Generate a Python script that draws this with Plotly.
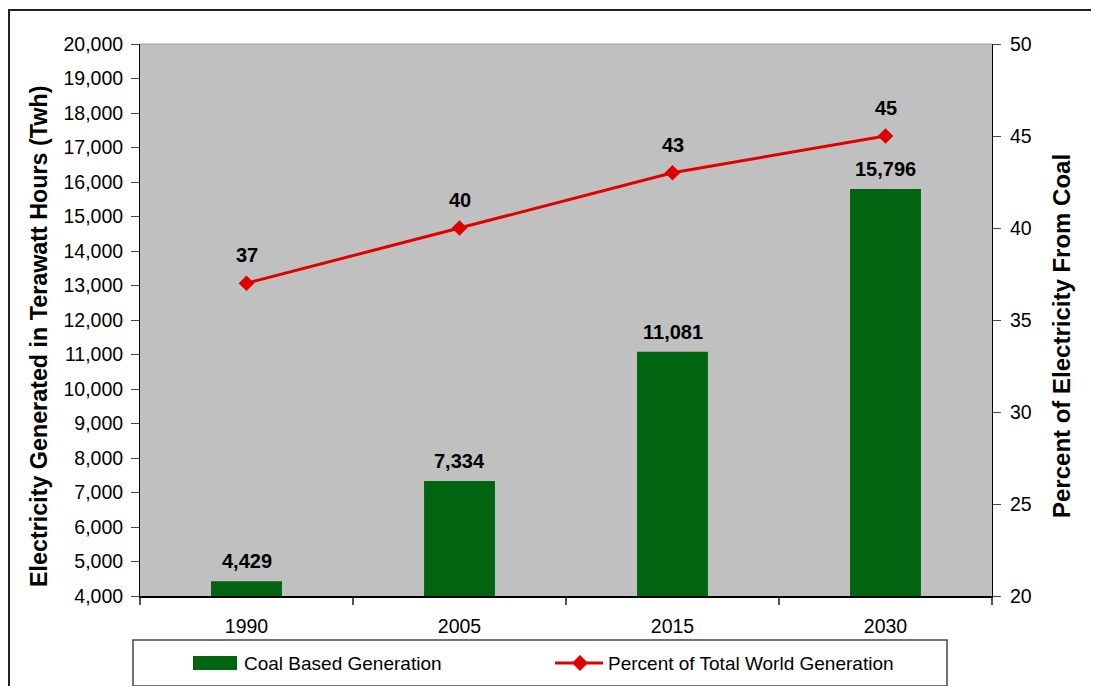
import plotly.graph_objects as go

# Data
years = ["1990", "2005", "2015", "2030"]
coal_twh = [4429, 7334, 11081, 15796]
coal_pct = [37, 40, 43, 45]

GREEN = "#006411"
RED = "#E00000"
GRAY = "#C0C0C0"
FONT = "Arial, Liberation Sans, sans-serif"

# the page body adds an 8px margin on every side, so the figure is made smaller
# and its margins shifted so the page never needs a scrollbar
OFF = 8
W, H = 1103 - 2 * OFF - 4, 698 - 2 * OFF - 4
L, T = 140 - OFF, 44 - OFF
R = W - (992 - OFF)
B = H - (596 - OFF)
PW, PH = W - L - R, H - T - B


def to_px(x):
    # screen x -> paper x
    return (x - OFF - L) / PW


def to_py(y):
    # screen y -> paper y
    return (H - B - (y - OFF)) / PH


fig = go.Figure()

fig.add_trace(go.Bar(
    x=years, y=coal_twh, name="Coal Based Generation",
    marker=dict(color=GREEN, line=dict(width=0)),
    showlegend=False,
))

fig.add_trace(go.Scatter(
    x=years, y=coal_pct, name="Percent of Total World Generation",
    yaxis="y2", mode="lines+markers",
    line=dict(color=RED, width=3),
    marker=dict(symbol="diamond", size=12, color=RED),
    showlegend=False,
))

annotations = []
for i, v in enumerate(coal_twh):
    annotations.append(dict(
        x=i, y=v, xref="x", yref="y", text=f"{v:,}", showarrow=False,
        yanchor="middle", yshift=20,
        font=dict(family=FONT, size=20, color="black", weight="bold"),
    ))
for i, v in enumerate(coal_pct):
    annotations.append(dict(
        x=i, y=v, xref="x", yref="y2", text=str(v), showarrow=False,
        yanchor="middle", yshift=28,
        font=dict(family=FONT, size=20, color="black", weight="bold"),
    ))

# axis titles (placed by hand to sit where the original has them)
annotations += [
    dict(x=to_px(39), y=to_py(337), xref="paper", yref="paper",
         text="Electricity Generated in Terawatt Hours (Twh)", textangle=-90,
         showarrow=False, xanchor="center", yanchor="middle",
         font=dict(family=FONT, size=23.3, color="black", weight="bold")),
    dict(x=to_px(1061), y=to_py(336), xref="paper", yref="paper",
         text="Percent of Electricity From Coal", textangle=-90,
         showarrow=False, xanchor="center", yanchor="middle",
         font=dict(family=FONT, size=24, color="black", weight="bold")),
]

# hand-drawn legend
annotations += [
    dict(x=to_px(242), y=to_py(663), xref="paper", yref="paper", xanchor="left",
         yanchor="middle", text="Coal Based Generation", showarrow=False,
         font=dict(family=FONT, size=19, color="black")),
    dict(x=to_px(606), y=to_py(663), xref="paper", yref="paper", xanchor="left",
         yanchor="middle", text="Percent of Total World Generation", showarrow=False,
         font=dict(family=FONT, size=19, color="black")),
]

shapes = [
    # outer frame: only its left and top edges fall inside the picture
    dict(type="line", xref="paper", yref="paper",
         x0=to_px(9), x1=to_px(9), y0=to_py(9), y1=to_py(OFF + H),
         line=dict(color="#222222", width=2), layer="below"),
    dict(type="line", xref="paper", yref="paper",
         x0=to_px(8), x1=to_px(OFF + W), y0=to_py(10), y1=to_py(10),
         line=dict(color="#222222", width=2), layer="below"),
    # legend box
    dict(type="rect", xref="paper", yref="paper",
         x0=to_px(133), x1=to_px(947), y0=to_py(640), y1=to_py(686),
         line=dict(color="#444444", width=1.5), fillcolor="white"),
    dict(type="rect", xref="paper", yref="paper",
         x0=to_px(193), x1=to_px(237), y0=to_py(656), y1=to_py(670),
         line=dict(width=0), fillcolor=GREEN),
    dict(type="line", xref="paper", yref="paper",
         x0=to_px(555), x1=to_px(603), y0=to_py(663), y1=to_py(663),
         line=dict(color=RED, width=3)),
    dict(type="path", xref="paper", yref="paper",
         path=(f"M{to_px(580)},{to_py(655)} L{to_px(588)},{to_py(663)} "
               f"L{to_px(580)},{to_py(671)} L{to_px(572)},{to_py(663)} Z"),
         line=dict(width=0), fillcolor=RED),
    # faint top edge of the plot area
    dict(type="line", xref="paper", yref="paper", x0=0, x1=1, y0=1, y1=1,
         line=dict(color="#A0A0A0", width=1)),
]

fig.update_layout(
    width=W, height=H,
    margin=dict(l=L, r=R, t=T, b=B, autoexpand=False),
    paper_bgcolor="white",
    plot_bgcolor=GRAY,
    font=dict(family=FONT, size=19.5, color="black"),
    showlegend=False,
    bargap=0.667,
    xaxis=dict(
        type="category", categoryorder="array", categoryarray=years,
        range=[-0.5, 3.5], tickson="boundaries", ticks="outside", ticklen=7,
        tickcolor="#555555", tickwidth=2, tickangle=0, ticklabelstandoff=12,
        showline=True, linecolor="black", linewidth=2,
        showgrid=False, tickfont=dict(size=19.5), automargin=False,
    ),
    yaxis=dict(
        range=[4000, 20000], dtick=1000, tickformat=",", ticks="outside",
        ticklen=8, tickcolor="#444444", showline=True, linecolor="black",
        linewidth=1, showgrid=False, zeroline=False, automargin=False,
        ticklabelstandoff=4, tickfont=dict(size=19.5),
    ),
    yaxis2=dict(
        range=[20, 50], dtick=5, overlaying="y", side="right",
        ticks="outside", ticklen=8, tickcolor="#444444", showline=True,
        linecolor="black", linewidth=1, showgrid=False, zeroline=False,
        automargin=False, ticklabelstandoff=5, tickfont=dict(size=19.5),
    ),
    annotations=annotations,
    shapes=shapes,
)

fig.write_html("out.html")
